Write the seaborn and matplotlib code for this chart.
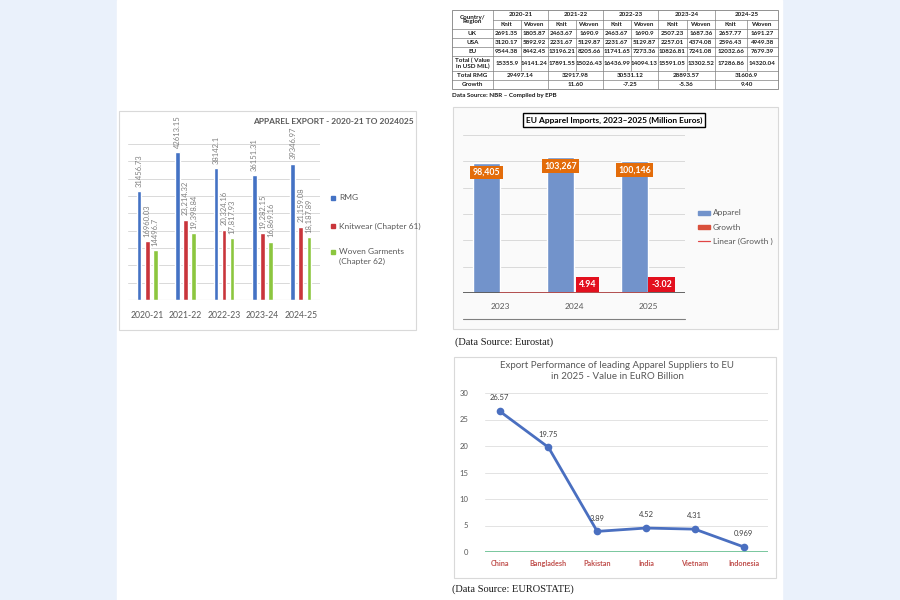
import numpy as np
import pandas as pd
import matplotlib
matplotlib.use("Agg")
import matplotlib.pyplot as plt
from matplotlib.patches import Rectangle
import seaborn as sns

# ---------------- data ----------------
# Apparel export 2020-21 to 2024-25
years = ["2020-21", "2021-22", "2022-23", "2023-24", "2024-25"]
rmg = [31456.73, 42613.15, 38142.1, 36151.31, 39346.97]
knitwear = [16960.03, 23214.32, 20324.16, 19282.15, 21159.08]
woven = [14496.7, 19398.84, 17817.93, 16869.16, 18187.89]
rmg_labels = ["31456.73", "42613.15", "38142.1", "36151.31", "39346.97"]
knit_labels = ["16960.03", "23,214.32", "20,324.16", "19,282.15", "21,159.08"]
woven_labels = ["14496.7", "19,398.84", "17,817.93", "16,869.16", "18,187.89"]
series_names = ["RMG", "Knitwear (Chapter 61)", "Woven Garments\n(Chapter 62)"]

# EU apparel imports
eu_years = ["2023", "2024", "2025"]
eu_apparel = [98405, 103267, 100146]
eu_growth = [0, 4.94, -3.02]
eu_apparel_labels = ["98,405", "103,267", "100,146"]
eu_growth_labels = ["", "4.94", "-3.02"]

# leading suppliers to EU, 2025
countries = ["China", "Bangladesh", "Pakistan", "India", "Vietnam", "Indonesia"]
supplier_values = [26.57, 19.75, 3.89, 4.52, 4.31, 0.969]
supplier_labels = ["26.57", "19.75", "3.89", "4.52", "4.31", "0.969"]

# table (NBR / EPB)
table_years = ["2020-21", "2021-22", "2022-23", "2023-24", "2024-25"]
row_names = ["UK", "USA", "EU", "Total ( Value\nin USD MIL)"]
uk_vals = ["2691.35", "1805.87", "2463.67", "1690.9", "2463.67", "1690.9", "2507.23", "1687.36", "2657.77", "1691.27"]
usa_vals = ["3120.17", "5892.92", "2231.67", "5129.87", "2231.67", "5129.87", "2257.01", "4374.08", "2596.43", "4949.38"]
eu_vals = ["9544.38", "8442.45", "13196.21", "8205.66", "11741.65", "7273.36", "10826.81", "7241.08", "12032.66", "7679.39"]
total_vals = ["15355.9", "14141.24", "17891.55", "15026.43", "16436.99", "14094.13", "15591.05", "13302.52", "17286.86", "14320.04"]
total_rmg = ["29497.14", "32917.98", "30531.12", "28893.57", "31606.9"]
growth_vals = ["", "11.60", "-7.25", "-5.36", "9.40"]

W, H = 900, 600
sns.set_style("white")
plt.rcParams["font.family"] = ["Lato", "DejaVu Sans"]

fig = plt.figure(figsize=(9, 6), dpi=100, facecolor="#eaf1fb")


def fbox(x0, y0, x1, y1):
    # pixel box (top-left origin) -> figure fraction
    return [x0 / W, 1 - y1 / H, (x1 - x0) / W, (y1 - y0) / H]


# background layer in pixel coords
bg = fig.add_axes([0, 0, 1, 1], zorder=0)
bg.set_xlim(0, W)
bg.set_ylim(H, 0)
bg.axis("off")
bg.add_patch(Rectangle((117, 0), 665, 600, color="white"))

grey = "#595959"

# ---------------- table ----------------
xb = [493, 548, 603, 658, 715, 778]
yb = [10, 20, 29, 38, 47, 56, 71, 80, 89]
lc = "#808080"
tk = dict(fontsize=4.5, fontweight="bold", color="#1a1a1a", ha="center", va="center")
bg.add_patch(Rectangle((452, yb[0]), 778 - 452, yb[-1] - yb[0], fill=False, ec=lc, lw=0.6))
for y in yb[1:-1]:
    x0 = 452 if y != 20 else 493
    bg.plot([x0, 778], [y, y], color=lc, lw=0.5)
for x in xb[:-1]:
    bg.plot([x, x], [yb[0], yb[-1]], color=lc, lw=0.5)
for a, b in zip(xb[:-1], xb[1:]):
    m = (a + b) / 2
    bg.plot([m, m], [yb[1], yb[6]], color=lc, lw=0.5)
bg.text(472.5, 19.5, "Country/\nRegion", linespacing=1.0, **tk)
for i, yr in enumerate(table_years):
    a, b = xb[i], xb[i + 1]
    bg.text((a + b) / 2, 15, yr, **tk)
    bg.text(a + (b - a) / 4, 24.5, "Knit", **tk)
    bg.text(a + 3 * (b - a) / 4, 24.5, "Woven", **tk)
    bg.text((a + b) / 2, 75.5, total_rmg[i], **tk)
    bg.text((a + b) / 2, 84.5, growth_vals[i], **tk)
for r, (name, vals) in enumerate(zip(row_names, [uk_vals, usa_vals, eu_vals, total_vals])):
    yc = (yb[r + 2] + yb[r + 3]) / 2
    bg.text(472.5, yc, name, linespacing=1.1, **tk)
    for j, v in enumerate(vals):
        a, b = xb[j // 2], xb[j // 2 + 1]
        xc = a + (b - a) / 4 if j % 2 == 0 else a + 3 * (b - a) / 4
        bg.text(xc, yc, v, **tk)
bg.text(472.5, 75.5, "Total RMG", **tk)
bg.text(472.5, 84.5, "Growth", **tk)
bg.text(452, 95, "Data Source: NBR – Compiled by EPB", fontsize=4.5, fontweight="bold",
        color="#1a1a1a", va="center")

# ---------------- apparel export chart ----------------
bg.add_patch(Rectangle((119, 111), 297, 219, fill=False, ec="#d9d9d9", lw=0.8))
bar_cols = ["#4472c4", "#c9353b", "#8cc63f"]
df1 = pd.DataFrame({
    "year": years * 3,
    "value": rmg + knitwear + woven,
    "series": [n for n in series_names for _ in years],
})
ax1 = fig.add_axes(fbox(128, 144, 320, 300), zorder=2)
ax1.patch.set_alpha(0)
sns.barplot(data=df1, x="year", y="value", hue="series", palette=bar_cols,
            width=0.63, gap=0.42, saturation=1, legend=False, ax=ax1)
ax1.set_ylim(0, 45000)
ax1.set_yticks(np.arange(0, 45001, 5000))
ax1.yaxis.grid(True, color="#d9d9d9", lw=0.7)
ax1.set_axisbelow(True)
ax1.set_yticklabels([])
ax1.set_xlabel("")
ax1.set_ylabel("")
ax1.tick_params(axis="both", length=0)
ax1.tick_params(axis="x", labelsize=6.2, labelcolor=grey, pad=8)
sns.despine(ax=ax1, left=True, bottom=True)
ax1.axhline(0, color="#bfbfbf", lw=0.8)
for cont, labs in zip(ax1.containers, [rmg_labels, knit_labels, woven_labels]):
    ax1.bar_label(cont, labels=labs, rotation=90, padding=3, fontsize=5.5, color="#808080")
bg.text(253, 121, "APPAREL EXPORT - 2020-21 TO 2024025", fontsize=6, fontweight="bold",
        color=grey, va="center")
for (yy, name), c in zip([(198, series_names[0]), (226, series_names[1]), (252, series_names[2])], bar_cols):
    bg.add_patch(Rectangle((331, yy - 2), 4, 4, color=c))
    bg.text(339, yy - 4 if "\n" in name else yy, name, fontsize=6, color=grey,
            va="top" if "\n" in name else "center", linespacing=1.4)

# ---------------- EU apparel imports chart ----------------
bg.add_patch(Rectangle((453, 107), 325, 222, fc="#fafafa", ec="#d9d9d9", lw=0.8))
df2 = pd.DataFrame({
    "year": eu_years * 2,
    "value": eu_apparel + eu_growth,
    "series": ["Apparel"] * 3 + ["Growth"] * 3,
})
ax2 = fig.add_axes(fbox(463, 135, 685, 293), zorder=2)
ax2.patch.set_alpha(0)
sns.barplot(data=df2, x="year", y="value", hue="series", palette=["#7293cb", "#d9503c"],
            width=0.73, saturation=1, legend=False, ax=ax2)
ax2.set_ylim(0, 120000)
ax2.set_yticks(np.arange(0, 120001, 20000))
ax2.yaxis.grid(True, color="#d9d9d9", lw=0.7)
ax2.set_axisbelow(True)
ax2.set_yticklabels([])
ax2.set_xlabel("")
ax2.set_ylabel("")
ax2.tick_params(axis="both", length=0)
ax2.tick_params(axis="x", labelsize=6, labelcolor=grey, pad=7)
sns.despine(ax=ax2, left=True, bottom=True)
ax2.axhline(0, color="#595959", lw=1.3)
xpos = np.arange(len(eu_years))
trend = np.polyval(np.polyfit(xpos, eu_growth, 1), xpos)
ax2.plot(xpos, trend, color="#e04545", lw=0.9)
for bar, lab in zip(ax2.containers[0], eu_apparel_labels):
    ax2.annotate(lab, (bar.get_x() + bar.get_width() / 2, bar.get_height()), xytext=(0, -6.5),
                 textcoords="offset points", ha="center", va="center", fontsize=6.3,
                 fontweight="bold", color="white",
                 bbox=dict(boxstyle="square,pad=0.28", fc="#e36c0a", ec="none"))
for bar, lab in zip(ax2.containers[1], eu_growth_labels):
    if lab:
        ax2.annotate(lab, (bar.get_x() + bar.get_width() / 2, bar.get_height()), xytext=(0, 6),
                     textcoords="offset points", ha="center", va="center", fontsize=6.3,
                     fontweight="bold", color="white",
                     bbox=dict(boxstyle="square,pad=0.32", fc="#e3101e", ec="none"))
bg.plot([463, 685], [319, 319], color="#7f7f7f", lw=0.8)
bg.text(614, 120, "EU Apparel Imports, 2023–2025 (Million Euros)", ha="center", va="center",
        fontsize=6, fontweight="bold", color="black",
        bbox=dict(boxstyle="square,pad=0.35", fc="white", ec="black", lw=1))
bg.add_patch(Rectangle((698, 211), 12, 4, color="#7293cb"))
bg.text(713, 213, "Apparel", fontsize=6, color=grey, va="center")
bg.add_patch(Rectangle((698, 225), 12, 4, color="#d9503c"))
bg.text(713, 227, "Growth", fontsize=6, color=grey, va="center")
bg.plot([698, 710], [241, 241], color="#e04545", lw=0.9)
bg.text(713, 241, "Linear (Growth )", fontsize=6, color=grey, va="center")
bg.text(455, 342, "(Data Source: Eurostat)", family="Liberation Serif", fontsize=7.5,
        va="center", color="#1a1a1a")

# ---------------- suppliers line chart ----------------
bg.add_patch(Rectangle((454, 357), 322, 221, fc="white", ec="#d9d9d9", lw=0.8))
ax3 = fig.add_axes(fbox(485, 393, 768, 552), zorder=2)
ax3.patch.set_alpha(0)
sns.pointplot(x=countries, y=supplier_values, color="#4a6fc0", markers="o",
              linewidth=2, markersize=4, ax=ax3)
ax3.set_xlim(-0.3, 5.5)
ax3.set_ylim(0, 30)
ax3.set_yticks(np.arange(0, 31, 5))
ax3.yaxis.grid(True, color="#e3e3e3", lw=0.7)
ax3.set_axisbelow(True)
ax3.axhline(0, color="#62bd8d", lw=1.2, zorder=1)
ax3.tick_params(axis="both", length=0)
ax3.tick_params(axis="y", labelsize=5.5, labelcolor=grey, pad=12)
ax3.tick_params(axis="x", labelsize=5.2, labelcolor="#c0504d", pad=6)
for t in ax3.get_xticklabels():
    t.set_fontweight("bold")
sns.despine(ax=ax3, left=True, bottom=True)
for i, (v, lab) in enumerate(zip(supplier_values, supplier_labels)):
    ax3.annotate(lab, (i, v), xytext=(0, 7), textcoords="offset points", ha="center",
                 va="bottom", fontsize=5.5, color="#404040")
bg.text(617, 371, "Export Performance of leading Apparel Suppliers to EU\nin 2025 - Value in EuRO Billion",
        ha="center", va="center", fontsize=7, color=grey, linespacing=1.25)
bg.text(452, 589, "(Data Source: EUROSTATE)", family="Liberation Serif", fontsize=7.5,
        va="center", color="#1a1a1a")

fig.savefig("out.png", dpi=100, facecolor=fig.get_facecolor())
